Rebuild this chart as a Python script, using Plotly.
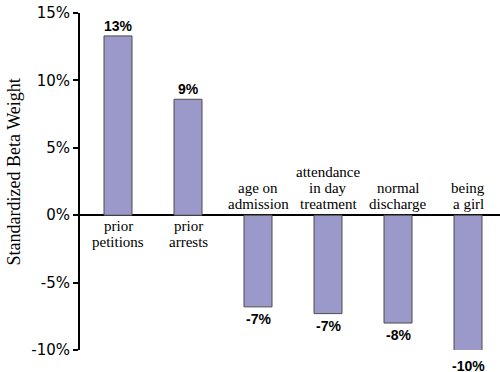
import plotly.graph_objects as go

categories = [["prior", "petitions"], ["prior", "arrests"], ["age on", "admission"],
              ["attendance", "in day", "treatment"], ["normal", "discharge"], ["being", "a girl"]]
values = [13.3, 8.6, -6.8, -7.3, -8.0, -10.3]
value_labels = ["13%", "9%", "-7%", "-7%", "-8%", "-10%"]
y_ticks = [15, 10, 5, 0, -5, -10]
y_ticktext = ["15%", "10%", "5%", "0%", "-5%", "-10%"]

Y_MIN, Y_MAX = -10, 15
xs = list(range(len(categories)))

fig = go.Figure()
fig.add_trace(go.Bar(
    x=xs, y=values, width=0.4, cliponaxis=False,
    marker=dict(color="#9b99c9", line=dict(color="#4d4d4d", width=1)),
    hoverinfo="skip",
))

LINE_H = 16
annotations = []
for i, (v, vl, lines) in enumerate(zip(values, value_labels, categories)):
    pos = v >= 0
    annotations.append(dict(
        x=i, y=(v - Y_MIN) / (Y_MAX - Y_MIN), xref="x", yref="y domain",
        text="<b>" + vl + "</b>", showarrow=False,
        yanchor="bottom" if pos else "top", yshift=0 if pos else -2,
        font=dict(family="Liberation Sans", size=14, color="black"),
    ))
    n = len(lines)
    for k, line in enumerate(lines):
        if pos:
            ys = -1 - LINE_H * k
            ya = "top"
        else:
            ys = 1 + LINE_H * (n - 1 - k)
            ya = "bottom"
        annotations.append(dict(
            x=i, y=0, xref="x", yref="y", text=line, showarrow=False,
            yanchor=ya, yshift=ys,
            font=dict(family="Liberation Serif", size=15, color="black"),
        ))

annotations.append(dict(
    x=0, y=0.527, xref="paper", yref="paper", text="Standardized Beta Weight",
    textangle=-90, showarrow=False, xanchor="center", yanchor="middle", xshift=-66,
    font=dict(family="Liberation Serif", size=18, color="black"),
))

fig.update_layout(
    width=500, height=372,
    margin=dict(l=80, r=0, t=13, b=22, autoexpand=False),
    plot_bgcolor="white", paper_bgcolor="white",
    showlegend=False,
    annotations=annotations,
    xaxis=dict(range=[-0.543, 5.457], showticklabels=False, showgrid=False,
               zeroline=False, showline=False, ticks="", automargin=False),
    yaxis=dict(range=[Y_MIN, Y_MAX], tickvals=y_ticks, ticktext=y_ticktext,
               showgrid=False, zeroline=True, zerolinecolor="black", zerolinewidth=2,
               showline=True, linecolor="black", linewidth=2, automargin=False,
               ticklabeloverflow="allow",
               ticks="outside", ticklen=5, tickwidth=1.5, tickcolor="black",
               tickfont=dict(family="DejaVu Sans", size=15, color="black")),
)

fig.write_html("out.html", config={"displayModeBar": False},
               post_script="document.body.style.margin='0';")
